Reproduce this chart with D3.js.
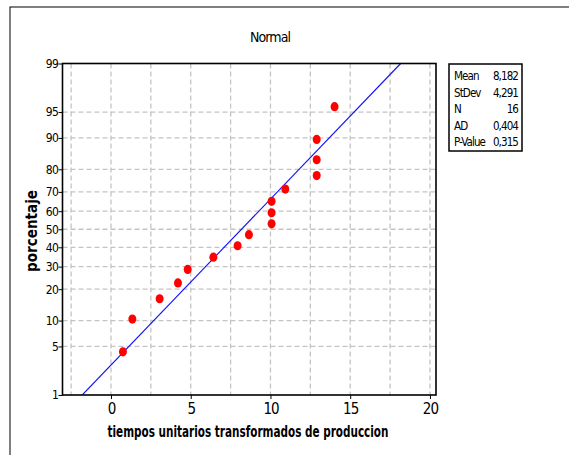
<!DOCTYPE html>
<html><head><meta charset="utf-8">
<script src="https://cdn.jsdelivr.net/npm/d3@7"></script>
<style>
body{margin:0;background:#fff;}
text{font-family:"DejaVu Sans Condensed","DejaVu Sans",sans-serif;font-stretch:condensed;}
</style></head><body>
<svg id="chart" width="569" height="455"></svg>
<script>
// Data
const xValues = [0.75, 1.34, 3.05, 4.2, 4.81, 6.42, 7.94, 8.65, 10.07, 10.07, 10.07, 10.93, 12.9, 12.9, 12.9, 14.02];
const percents = [4.27, 10.37, 16.46, 22.56, 28.66, 34.76, 40.85, 46.95, 53.05, 59.15, 65.24, 71.34, 77.44, 83.54, 89.63, 95.73];
const yTicks = [1, 5, 10, 20, 30, 40, 50, 60, 70, 80, 90, 95, 99];
const yGrid = [5, 10, 20, 30, 40, 50, 60, 70, 80, 90, 95];
const xTicks = [0, 5, 10, 15, 20];
const xGrid = [-2.5, 0, 2.5, 5, 7.5, 10, 12.5, 15, 17.5, 20];
const statLabels = ["Mean", "StDev", "N", "AD", "P-Value"];
const statValues = ["8,182", "4,291", "16", "0,404", "0,315"];
const fitMean = 8.182, fitSd = 4.291;

const svg = d3.select("#chart");
const L = 62.5, T = 63.5, R = 436, B = 395;

// outer frame
svg.append("rect").attr("x", 10).attr("y", 7).attr("width", 600).attr("height", 500)
  .attr("fill", "none").attr("stroke", "#000").attr("stroke-width", 1);

// normal quantile
function probit(p){
  const a=[-3.969683028665376e+01,2.209460984245205e+02,-2.759285104469687e+02,1.383577518672690e+02,-3.066479806614716e+01,2.506628277459239e+00];
  const b=[-5.447609879822406e+01,1.615858368580409e+02,-1.556989798598866e+02,6.680131188771972e+01,-1.328068155288572e+01];
  const c=[-7.784894002430293e-03,-3.223964580411365e-01,-2.400758277161838e+00,-2.549732539343734e+00,4.374664141464968e+00,2.938163982698783e+00];
  const d=[7.784695709041462e-03,3.224671290700398e-01,2.445134137142996e+00,3.754408661907416e+00];
  const pl=0.02425;
  let q,r;
  if(p<pl){q=Math.sqrt(-2*Math.log(p));return (((((c[0]*q+c[1])*q+c[2])*q+c[3])*q+c[4])*q+c[5])/((((d[0]*q+d[1])*q+d[2])*q+d[3])*q+1);}
  if(p>1-pl){q=Math.sqrt(-2*Math.log(1-p));return -(((((c[0]*q+c[1])*q+c[2])*q+c[3])*q+c[4])*q+c[5])/((((d[0]*q+d[1])*q+d[2])*q+d[3])*q+1);}
  q=p-0.5;r=q*q;
  return (((((a[0]*r+a[1])*r+a[2])*r+a[3])*r+a[4])*r+a[5])*q/(((((b[0]*r+b[1])*r+b[2])*r+b[3])*r+b[4])*r+1);
}

const x = d3.scaleLinear().domain([-3.04, 20.38]).range([L, R]);
const z = d3.scaleLinear().domain([probit(0.01), probit(0.99)]).range([B, T]);
const y = p => z(probit(p / 100));

// grid
const grid = svg.append("g").attr("stroke", "#c4c4c4").attr("stroke-width", 1.3).attr("stroke-dasharray", "5,3");
grid.selectAll(".vg").data(xGrid).join("line")
  .attr("x1", d => x(d)).attr("x2", d => x(d)).attr("y1", T).attr("y2", B);
grid.selectAll(".hg").data(yGrid).join("line")
  .attr("x1", L).attr("x2", R).attr("y1", d => y(d)).attr("y2", d => y(d));

// fitted line
svg.append("clipPath").attr("id", "c").append("rect")
  .attr("x", L).attr("y", T).attr("width", R - L).attr("height", B - T);
const zLo = probit(0.01), zHi = probit(0.99);
svg.append("line").attr("clip-path", "url(#c)")
  .attr("x1", x(fitMean + fitSd * zLo)).attr("y1", z(zLo))
  .attr("x2", x(fitMean + fitSd * zHi)).attr("y2", z(zHi))
  .attr("stroke", "#1010ff").attr("stroke-width", 1.1);

// points
svg.selectAll(".pt").data(xValues).join("ellipse")
  .attr("cx", d => x(d)).attr("cy", (d, i) => y(percents[i]))
  .attr("rx", 4).attr("ry", 4.6).attr("fill", "#ff0000");

// frame
svg.append("rect").attr("x", L).attr("y", T).attr("width", R - L).attr("height", B - T)
  .attr("fill", "none").attr("stroke", "#000").attr("stroke-width", 1.6);

// axes
const yScaleForAxis = d3.scaleLinear().domain(z.domain()).range(z.range());
const yAxis = d3.axisLeft(yScaleForAxis).tickValues(yTicks.map(p => probit(p / 100)))
  .tickFormat((d, i) => yTicks[i]).tickSize(4).tickSizeOuter(0);
const gy = svg.append("g").attr("transform", `translate(${L},0)`).call(yAxis);
gy.select(".domain").remove();
gy.selectAll("line").attr("stroke", "#000");
gy.selectAll("text").attr("font-size", 12).attr("letter-spacing", -0.8).attr("x", -4.5).attr("fill", "#000");

const xAxis = d3.axisBottom(x).tickValues(xTicks).tickSize(4).tickSizeOuter(0);
const gx = svg.append("g").attr("transform", `translate(0,${B})`).call(xAxis);
gx.select(".domain").remove();
gx.selectAll("line").attr("stroke", "#000");
gx.selectAll("text").attr("font-size", 15).attr("letter-spacing", -1).attr("y", 8).attr("fill", "#000");

// titles
svg.append("text").attr("x", 270).attr("y", 42).attr("text-anchor", "middle")
  .attr("font-size", 14).attr("letter-spacing", -0.9).text("Normal");
svg.append("text").attr("x", 248).attr("y", 437).attr("text-anchor", "middle")
  .attr("font-size", 15).attr("font-weight", "bold")
  .attr("textLength", 281).attr("lengthAdjust", "spacingAndGlyphs")
  .text("tiempos unitarios transformados de produccion");
svg.append("text").attr("transform", "translate(37,231) rotate(-90)").attr("text-anchor", "middle")
  .attr("font-size", 15).attr("font-weight", "bold")
  .attr("textLength", 82).attr("lengthAdjust", "spacingAndGlyphs")
  .text("porcentaje");

// stats box
const bx = 449, by = 64, bw = 73, bh = 87;
svg.append("rect").attr("x", bx).attr("y", by).attr("width", bw).attr("height", bh)
  .attr("fill", "#fff").attr("stroke", "#000").attr("stroke-width", 1.5);
const rowY = d3.scalePoint().domain(statLabels).range([80, 146]);
svg.selectAll(".sl").data(statLabels).join("text")
  .attr("x", 454).attr("y", d => rowY(d)).attr("font-size", 11.5).attr("letter-spacing", -0.9).text(d => d);
svg.selectAll(".sv").data(statValues).join("text")
  .attr("x", 518).attr("y", (d, i) => rowY(statLabels[i])).attr("text-anchor", "end")
  .attr("font-size", 11.5).attr("letter-spacing", -0.9).text(d => d);
</script>
</body></html>
